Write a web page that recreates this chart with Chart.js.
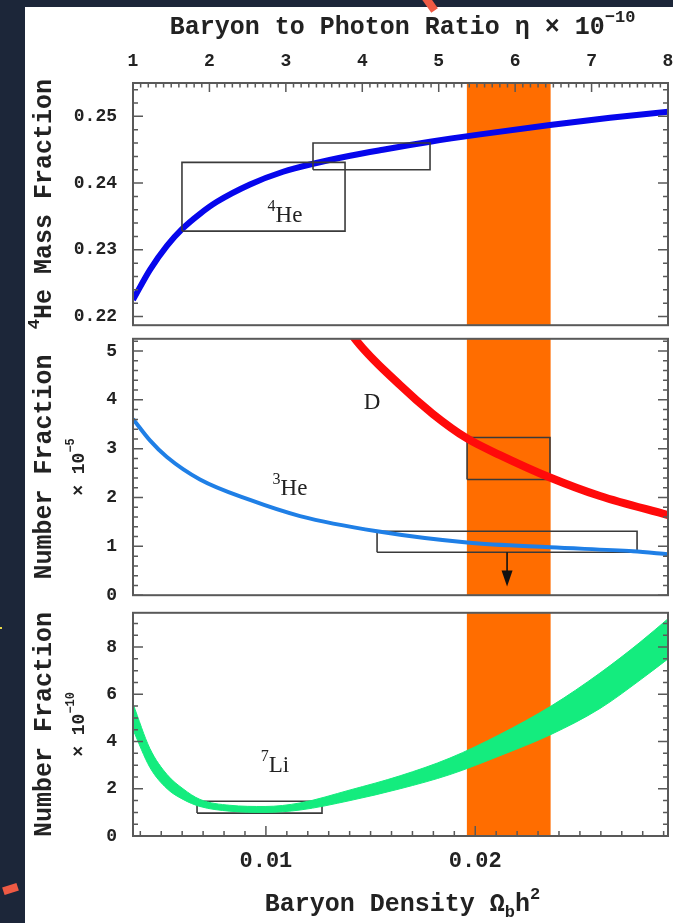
<!DOCTYPE html>
<html>
<head>
<meta charset="utf-8">
<script src="https://cdn.jsdelivr.net/npm/chart.js@4.4.1/dist/chart.umd.min.js"></script>
<style>
  html, body { margin: 0; padding: 0; width: 673px; height: 923px; overflow: hidden; background: #1c2639; }
  #sheet { position: absolute; left: 25px; top: 7px; width: 648px; height: 916px; background: #ffffff; }
  canvas { position: absolute; left: 25px; }
  #cHe4 { top: 7px; }
  #cDHe3 { top: 312px; }
  #cLi { top: 586px; }
  .mark { position: absolute; background: #ee5a44; }
</style>
</head>
<body>
<div id="sheet"></div>
<div class="mark" style="left:426px;top:-4px;width:8px;height:16px;transform:rotate(-35deg);"></div>
<div class="mark" style="left:3px;top:885px;width:15px;height:8px;transform:rotate(-18deg);"></div>
<div class="mark" style="left:0px;top:627px;width:2px;height:2px;background:#e8d84a;"></div>
<canvas id="cHe4" width="670" height="345"></canvas>
<canvas id="cDHe3" width="670" height="310"></canvas>
<canvas id="cLi" width="670" height="337"></canvas>
<script>
// ---- Baryon density range (Omega_b h^2); eta_10 = 273.9 * Omega_b h^2 ----
const ETA_PER_OMEGA = 273.9;
const etaRange = [1, 8];
const OMEGA_MIN = etaRange[0] / ETA_PER_OMEGA;
const OMEGA_MAX = etaRange[1] / ETA_PER_OMEGA;

// ---- Helium-4 mass fraction prediction ----
const he4Omega = [0.00365, 0.00446, 0.00527, 0.00599, 0.00685, 0.00766, 0.00924, 0.01082,
                  0.01225, 0.01402, 0.01559, 0.01784, 0.02023, 0.02357, 0.02644, 0.02921];
const he4Y     = [0.2225, 0.2270, 0.2306, 0.2331, 0.2354, 0.2372, 0.2398, 0.2417,
                  0.2429, 0.2441, 0.2450, 0.2462, 0.2473, 0.2487, 0.2498, 0.2507];

// ---- Deuterium and Helium-3 number fractions (x 1e-5) ----
const dOmega = [0.01380, 0.01416, 0.01641, 0.01798, 0.01961, 0.02118, 0.02357, 0.02596, 0.02921];
const dVals  = [5.55, 5.30, 4.30, 3.71, 3.21, 2.87, 2.41, 2.03, 1.64];
const he3Omega = [0.00365, 0.00446, 0.00527, 0.00685, 0.00924, 0.01163, 0.01531, 0.01961, 0.02357, 0.02754, 0.02921];
const he3Vals  = [3.61, 3.17, 2.83, 2.37, 1.95, 1.62, 1.31, 1.08, 0.98, 0.90, 0.84];

// ---- Lithium-7 number fraction band (x 1e-10) ----
const liOmega = [0.00365, 0.00446, 0.00528, 0.00604, 0.00685, 0.00828, 0.00996, 0.01163,
                 0.01402, 0.01641, 0.01879, 0.02118, 0.02362, 0.02596, 0.02787, 0.02921];
const liHigh  = [5.6, 3.7, 2.6, 2.0, 1.55, 1.3, 1.25, 1.4, 1.95, 2.55, 3.3, 4.3, 5.5, 6.9, 8.2, 9.2];
const liLow   = [4.5, 2.9, 2.0, 1.55, 1.25, 1.05, 1.0, 1.1, 1.5, 2.0, 2.6, 3.4, 4.3, 5.4, 6.6, 7.5];

// ---- Observational boxes: [Omega min, Omega max, value min, value max] ----
const he4BoxA = [0.00599, 0.01378, 0.2328, 0.2431];
const he4BoxB = [0.01225, 0.01784, 0.2420, 0.2460];
const dBox    = [0.01961, 0.02357, 2.37, 3.23];
const he3Box  = [0.01531, 0.02773, 0.88, 1.31];
const liBox   = [0.00671, 0.01268, 0.97, 1.47];
const he3Limit = [0.02152, 0.88, 0.18];   // Omega, from value, to value (upper limit arrow)

// ---- CMB baryon density band ----
const bandOmega = [0.0196, 0.0236];

// ---- Tick values ----
const etaTicks   = [1, 2, 3, 4, 5, 6, 7, 8];
const omegaTicks = [0.01, 0.02];
const he4Ticks   = [0.22, 0.23, 0.24, 0.25];
const dHe3Ticks  = [0, 1, 2, 3, 4, 5];
const liTicks    = [0, 2, 4, 6, 8];

// ---- Curve labels: [Omega, value, text parts] ----
const he4Label = [0.01091, 0.2350, [['4', 'sup'], ['He', 'n']]];
const dLabel   = [0.01507, 3.94, [['D', 'n']]];
const he3Label = [0.01115, 2.17, [['3', 'sup'], ['He', 'n']]];
const liLabel  = [0.01043, 2.95, [['7', 'sup'], ['Li', 'n']]];

const MONO = "'Liberation Mono', 'DejaVu Sans Mono', monospace";
const SERIF = "'Liberation Serif', 'DejaVu Serif', serif";
const INK = '#222222';
const FRAME = '#595959';

function pts(xs, ys) { return xs.map((x, i) => ({ x, y: ys[i] })); }
function rect(b) {
  return [{ x: b[0], y: b[2] }, { x: b[1], y: b[2] }, { x: b[1], y: b[3] }, { x: b[0], y: b[3] }, { x: b[0], y: b[2] }];
}
function curve(data, color, width, extra) {
  return Object.assign({ data, showLine: true, borderColor: color, borderWidth: width, pointRadius: 0,
    cubicInterpolationMode: 'monotone', fill: false, borderCapStyle: 'butt' }, extra || {});
}
function box(b) {
  return { data: rect(b), showLine: true, borderColor: '#3a3a3a', borderWidth: 1.6, pointRadius: 0,
    tension: 0, fill: false, borderJoinStyle: 'miter' };
}

// Draws text made of normal / superscript / subscript runs
function drawRich(ctx, parts, x, y, size, family, rotate, weight) {
  ctx.save();
  ctx.translate(x, y);
  if (rotate) ctx.rotate(-Math.PI / 2);
  const w8 = weight || 'normal';
  const fontFor = k => `${w8} ${k === 'n' ? size : Math.round(size * 0.68)}px ${family}`;
  let total = 0;
  const widths = parts.map(([t, k]) => { ctx.font = fontFor(k); const w = ctx.measureText(t).width; total += w; return w; });
  let cx = -total / 2;
  ctx.textBaseline = 'middle';
  ctx.textAlign = 'left';
  ctx.fillStyle = INK;
  parts.forEach(([t, k], i) => {
    ctx.font = fontFor(k);
    const dy = k === 'sup' ? -size * 0.42 : (k === 'sub' ? size * 0.32 : 0);
    ctx.fillText(t, cx, dy);
    cx += widths[i];
  });
  ctx.restore();
}

function stepValues(min, max, step) {
  const out = [];
  for (let i = Math.ceil(min / step - 1e-9); i <= Math.floor(max / step + 1e-9); i++) out.push(i * step);
  return out;
}
function isMajor(v, majors, step) { return majors.some(m => Math.abs(m - v) < step * 0.01); }

const panelDeco = {
  id: 'panelDeco',
  beforeDatasetsDraw(chart) {
    const { ctx, chartArea: a, scales: { x } } = chart;
    const x0 = x.getPixelForValue(bandOmega[0]);
    const x1 = x.getPixelForValue(bandOmega[1]);
    ctx.save();
    ctx.fillStyle = '#ff6d00';
    ctx.fillRect(x0, a.top, x1 - x0, a.bottom - a.top);
    ctx.restore();
  },
  afterDatasetsDraw(chart, args, o) {
    const { ctx, chartArea: a, scales } = chart;
    const x = scales.x, y = scales.y;

    // upper-limit arrow
    if (o.arrow) {
      const ax = x.getPixelForValue(o.arrow[0]);
      const y0 = y.getPixelForValue(o.arrow[1]);
      const y1 = y.getPixelForValue(o.arrow[2]);
      ctx.save();
      ctx.strokeStyle = '#111'; ctx.fillStyle = '#111'; ctx.lineWidth = 1.6;
      ctx.beginPath(); ctx.moveTo(ax, y0); ctx.lineTo(ax, y1 - 12); ctx.stroke();
      ctx.beginPath(); ctx.moveTo(ax - 5.5, y1 - 16); ctx.lineTo(ax + 5.5, y1 - 16); ctx.lineTo(ax, y1); ctx.closePath(); ctx.fill();
      ctx.restore();
    }

    // curve labels
    (o.labels || []).forEach(([ox, oy, parts]) => {
      drawRich(ctx, parts, x.getPixelForValue(ox), y.getPixelForValue(oy), 23, SERIF, false);
    });

    // frame
    ctx.save();
    ctx.strokeStyle = FRAME;
    ctx.lineWidth = 2;
    ctx.strokeRect(a.left, a.top, a.right - a.left, a.bottom - a.top);

    // inward ticks on left and right edges
    ctx.lineWidth = 1.5;
    ctx.beginPath();
    stepValues(y.min, y.max, o.yMinor).forEach(v => {
      const p = y.getPixelForValue(v);
      const len = isMajor(v, o.yMajor, o.yMinor) ? 10 : 5;
      ctx.moveTo(a.left, p); ctx.lineTo(a.left + len, p);
      ctx.moveTo(a.right, p); ctx.lineTo(a.right - len, p);
    });
    // inward ticks on top edge (eta)
    if (o.topTicks) {
      const s = scales.eta;
      stepValues(s.min, s.max, 0.1).forEach(v => {
        const p = s.getPixelForValue(v);
        const len = isMajor(v, etaTicks, 0.1) ? 9 : 4.5;
        ctx.moveTo(p, a.top); ctx.lineTo(p, a.top + len);
      });
    }
    // inward ticks on bottom edge (Omega)
    if (o.bottomTicks) {
      stepValues(x.min, x.max, 0.001).forEach(v => {
        const p = x.getPixelForValue(v);
        const len = isMajor(v, omegaTicks, 0.001) ? 10 : 5;
        ctx.moveTo(p, a.bottom); ctx.lineTo(p, a.bottom - len);
      });
    }
    ctx.stroke();
    ctx.restore();

    // axis titles
    const midY = (a.top + a.bottom) / 2;
    drawRich(ctx, o.yTitle, 20, midY, 25, MONO, true, 'bold');
    if (o.yScale) drawRich(ctx, o.yScale, 54, midY, 18, MONO, true, 'bold');
    if (o.xTitle) drawRich(ctx, o.xTitle[0], (a.left + a.right) / 2 + 2, o.xTitle[1], 25, MONO, false, 'bold');
  }
};

function yAxis(min, max, ticks, digits, size) {
  return {
    type: 'linear', position: 'left', min, max,
    afterBuildTicks: s => { s.ticks = ticks.map(v => ({ value: v })); },
    afterFit: s => { s.width = 108; },
    grid: { display: false, drawTicks: false },
    border: { display: false },
    ticks: { padding: 16, color: INK, font: { family: MONO, size, weight: 'bold' }, callback: v => v.toFixed(digits) }
  };
}
const hiddenX = { type: 'linear', min: OMEGA_MIN, max: OMEGA_MAX, display: false };
const baseOptions = (padding, scales, deco) => ({
  responsive: false, animation: false, events: [],
  layout: { padding },
  plugins: { legend: { display: false }, tooltip: { enabled: false }, panelDeco: deco },
  scales
});

// Top panel: Helium-4 mass fraction
new Chart(document.getElementById('cHe4'), {
  type: 'scatter',
  data: { datasets: [box(he4BoxA), box(he4BoxB), curve(pts(he4Omega, he4Y), '#0606ec', 6)] },
  options: baseOptions({ left: 0, right: 27, top: 0, bottom: 24.5 }, {
    x: hiddenX,
    eta: {
      type: 'linear', axis: 'x', position: 'top', min: etaRange[0], max: etaRange[1],
      afterBuildTicks: s => { s.ticks = etaTicks.map(v => ({ value: v })); },
      afterFit: s => { s.height = 76; },
      grid: { display: false, drawTicks: false },
      border: { display: false },
      ticks: { padding: 11, color: INK, maxRotation: 0, autoSkip: false, font: { family: MONO, size: 18, weight: 'bold' }, callback: v => String(v) }
    },
    y: yAxis(0.2187, 0.2550, he4Ticks, 2, 18)
  }, {
    yMinor: 0.002, yMajor: he4Ticks, topTicks: true,
    labels: [he4Label],
    yTitle: [['4', 'sup'], ['He Mass Fraction', 'n']],
    xTitle: [[['Baryon to Photon Ratio η × 10', 'n'], ['−10', 'sup']], 21]
  }),
  plugins: [panelDeco]
});

// Middle panel: Deuterium and Helium-3
new Chart(document.getElementById('cDHe3'), {
  type: 'scatter',
  data: { datasets: [
    curve(pts(he3Omega, he3Vals), '#1f7fe6', 4),
    curve(pts(dOmega, dVals), '#ff0a0a', 8),
    box(dBox), box(he3Box)
  ] },
  options: baseOptions({ left: 0, right: 27, top: 25, bottom: 22 }, {
    x: hiddenX,
    y: yAxis(0, 5.25, dHe3Ticks, 0, 18)
  }, {
    yMinor: 0.2, yMajor: dHe3Ticks,
    labels: [dLabel, he3Label],
    arrow: he3Limit,
    yTitle: [['Number Fraction', 'n']],
    yScale: [['× 10', 'n'], ['−5', 'sup']]
  }),
  plugins: [panelDeco]
});

// Bottom panel: Lithium-7
new Chart(document.getElementById('cLi'), {
  type: 'scatter',
  data: { datasets: [
    curve(pts(liOmega, liHigh), '#14ec7e', 1, { fill: '+1', backgroundColor: '#14ec7e' }),
    curve(pts(liOmega, liLow), '#14ec7e', 1),
    box(liBox)
  ] },
  options: baseOptions({ left: 0, right: 27, top: 25, bottom: 0 }, {
    x: {
      type: 'linear', position: 'bottom', min: OMEGA_MIN, max: OMEGA_MAX,
      afterBuildTicks: s => { s.ticks = omegaTicks.map(v => ({ value: v })); },
      afterFit: s => { s.height = 87; },
      grid: { display: false, drawTicks: false },
      border: { display: false },
      ticks: { padding: 12, color: INK, maxRotation: 0, autoSkip: false, font: { family: MONO, size: 22, weight: 'bold' }, callback: v => v.toFixed(2) }
    },
    y: yAxis(0, 9.45, liTicks, 0, 18)
  }, {
    yMinor: 0.5, yMajor: liTicks, bottomTicks: true,
    labels: [liLabel],
    yTitle: [['Number Fraction', 'n']],
    yScale: [['× 10', 'n'], ['−10', 'sup']],
    xTitle: [[['Baryon Density Ω', 'n'], ['b', 'sub'], ['h', 'n'], ['2', 'sup']], 319]
  }),
  plugins: [panelDeco]
});
</script>
</body>
</html>
